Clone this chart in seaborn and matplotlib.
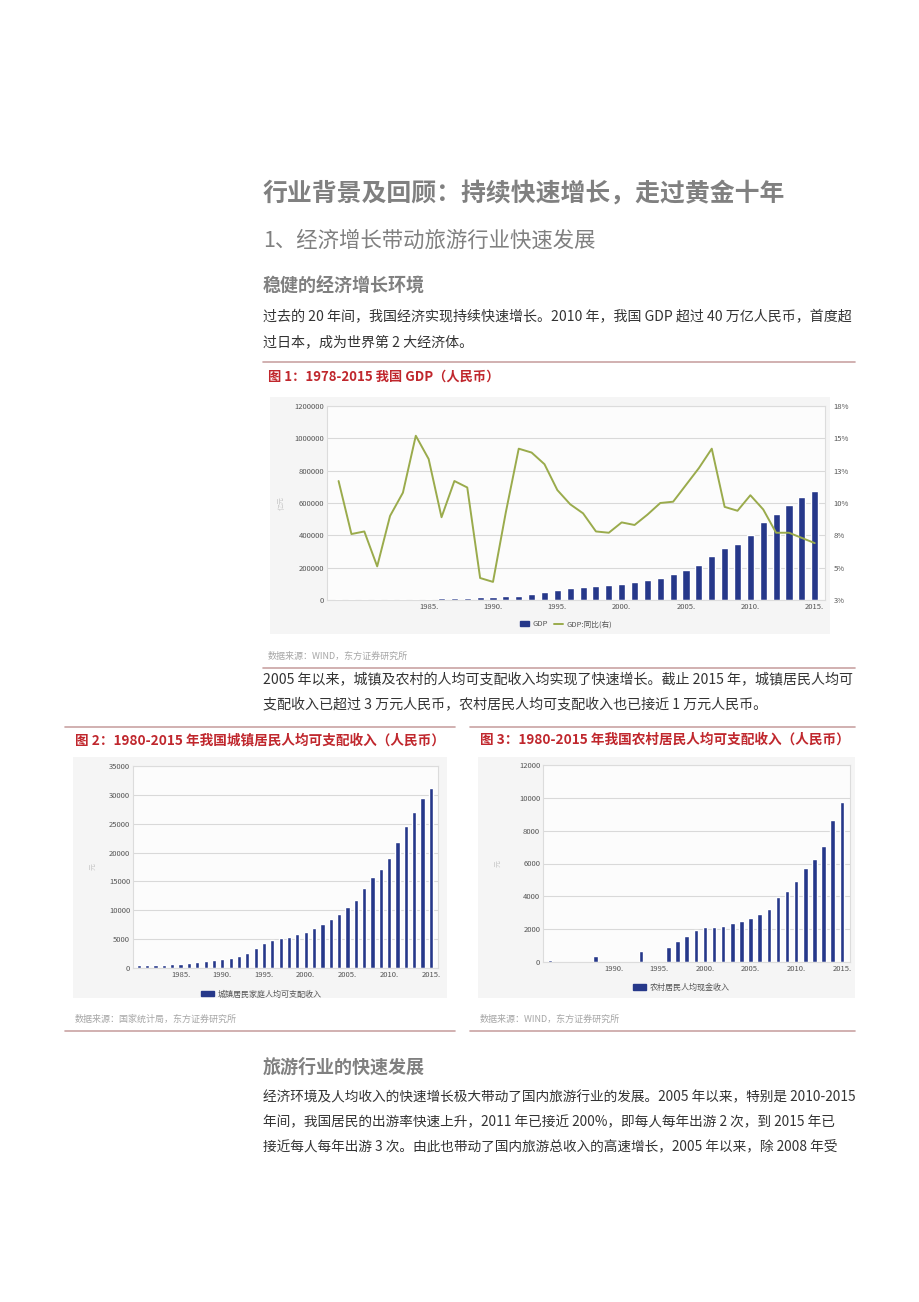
import numpy as np
import pandas as pd
import seaborn as sns
import matplotlib.pyplot as plt
from matplotlib.patches import Rectangle
from matplotlib.lines import Line2D
from matplotlib.patches import Patch

# ---- data ----
gdp_years = list(range(1978, 2016))
gdp_value = [3679, 4101, 4588, 4936, 5373, 6021, 7279, 9099, 10376, 12175,
             15180, 17180, 18873, 22006, 27195, 35673, 48638, 61340, 71814, 79715,
             85196, 90564, 100280, 110863, 121717, 137422, 161840, 187319, 219439, 270232,
             319516, 349081, 405000, 480000, 535000, 587000, 635000, 676000]
gdp_growth = [11.7, 7.6, 7.8, 5.1, 9.0, 10.8, 15.2, 13.4, 8.9, 11.7,
              11.2, 4.2, 3.9, 9.3, 14.2, 13.9, 13.0, 11.0, 9.9, 9.2,
              7.8, 7.7, 8.5, 8.3, 9.1, 10.0, 10.1, 11.4, 12.7, 14.2,
              9.7, 9.4, 10.6, 9.5, 7.7, 7.7, 7.3, 6.9]

urban_years = list(range(1980, 2016))
urban_income = [478, 500, 535, 565, 652, 739, 900, 1002, 1180, 1374,
                1510, 1701, 2027, 2577, 3496, 4283, 4839, 5160, 5425, 5854,
                6280, 6860, 7703, 8472, 9422, 10493, 11759, 13786, 15781, 17175,
                19109, 21810, 24565, 26955, 29381, 31195]

rural_years = [1983, 1988, 1993] + list(range(1996, 2016))
rural_income = [130, 340, 680, 910, 1250, 1600, 1945, 2120, 2160, 2190,
                2370, 2510, 2710, 2920, 3240, 3930, 4300, 4950, 5720,
                6290, 7090, 8640, 9770]

tick_years = [1985, 1990, 1995, 2000, 2005, 2010, 2015]
gdp_left_ticks = [0, 200000, 400000, 600000, 800000, 1000000, 1200000]
gdp_right_ticks = [2.5, 5, 7.5, 10, 12.5, 15, 17.5]
gdp_right_labels = ['3%', '5%', '8%', '10%', '13%', '15%', '18%']

# ---- style ----
sns.set_theme(style='white')
plt.rcParams['font.family'] = ['Noto Sans CJK SC', 'DejaVu Sans']

W, H = 920, 1302
BAR = '#26388a'
LINE = '#9aab4c'
RED = '#c0272d'
GRAY_HEAD = '#808080'
BODY = '#333333'
RULE = '#c9a3a3'
BODY_FS = 10.1

fig = plt.figure(figsize=(W / 100, H / 100), dpi=100)
fig.patch.set_facecolor('white')


def box(l, t, r, b):
    return [l / W, 1 - b / H, (r - l) / W, (b - t) / H]


def txt(x, y, s, **kw):
    fig.text(x / W, 1 - y / H, s, va='center', ha='left', **kw)


def rule(x0, x1, y, lw=1.2):
    fig.add_artist(Line2D([x0 / W, x1 / W], [1 - y / H, 1 - y / H], color=RULE, lw=lw))


def panel(l, t, r, b):
    fig.add_artist(Rectangle((l / W, 1 - b / H), (r - l) / W, (b - t) / H,
                             transform=fig.transFigure, facecolor='#f5f5f5',
                             edgecolor='none', zorder=0))


def style_ax(ax):
    ax.set_facecolor('#fcfcfc')
    ax.grid(axis='y', color='#d9d9d9', lw=0.8)
    ax.grid(axis='x', visible=False)
    for s in ax.spines.values():
        s.set_color('#dcdcdc')
        s.set_linewidth(0.8)
    ax.tick_params(axis='both', length=0, labelsize=5.5, colors='#555555', pad=2)
    ax.set_xlabel('')


# ---- page text ----
txt(263, 193, '行业背景及回顾：持续快速增长，走过黄金十年', fontsize=17.9, fontweight='bold', color=GRAY_HEAD)
txt(263, 241, '1、经济增长带动旅游行业快速发展', fontsize=15.4, color=GRAY_HEAD)
txt(263, 286, '稳健的经济增长环境', fontsize=13, fontweight='bold', color=GRAY_HEAD)
txt(263, 317, '过去的 20 年间，我国经济实现持续快速增长。2010 年，我国 GDP 超过 40 万亿人民币，首度超',
    fontsize=BODY_FS, color=BODY)
txt(263, 342, '过日本，成为世界第 2 大经济体。', fontsize=BODY_FS, color=BODY)
rule(263, 855, 362)
txt(268, 377, '图 1：1978-2015 我国 GDP（人民币）', fontsize=9.5, fontweight='bold', color=RED)

# ---- chart 1: GDP ----
panel(270, 397, 830, 634)
ax1 = fig.add_axes(box(327, 406, 825, 600))
sns.barplot(x=gdp_years, y=gdp_value, native_scale=True, width=0.55, color=BAR,
            saturation=1, ax=ax1)
ax1.set_ylim(0, 1200000)
ax1.set_yticks(gdp_left_ticks)
ax1.set_yticklabels([str(v) for v in gdp_left_ticks])
ax1.set_xlim(1977.1, 2015.8)
ax1.set_xticks(tick_years)
ax1.set_xticklabels([f'{y}.' for y in tick_years])
ax1.set_ylabel('亿元', fontsize=5, color='#c8c8c8', labelpad=6)
style_ax(ax1)
ax1b = ax1.twinx()
sns.lineplot(x=gdp_years, y=gdp_growth, color=LINE, lw=1.4, ax=ax1b)
ax1b.set_ylim(2.5, 17.5)
ax1b.set_yticks(gdp_right_ticks)
ax1b.set_yticklabels(gdp_right_labels)
ax1b.tick_params(axis='y', length=0, labelsize=5.5, colors='#555555', pad=6)
ax1b.grid(False)
for s in ax1b.spines.values():
    s.set_visible(False)
ax1.legend(handles=[Patch(color=BAR, label='GDP'),
                    Line2D([], [], color=LINE, lw=1.4, label='GDP:同比(右)')],
           loc='upper center', bbox_to_anchor=(0.48, -0.07), ncol=2, frameon=False,
           fontsize=5.5, handlelength=1.2, handletextpad=0.4, columnspacing=0.8,
           labelcolor='#555555')

txt(268, 656, '数据来源：WIND，东方证券研究所', fontsize=6.5, color='#a6a6a6')
rule(263, 855, 668)
txt(263, 680, '2005 年以来，城镇及农村的人均可支配收入均实现了快速增长。截止 2015 年，城镇居民人均可',
    fontsize=BODY_FS, color=BODY)
txt(263, 705, '支配收入已超过 3 万元人民币，农村居民人均可支配收入也已接近 1 万元人民币。',
    fontsize=BODY_FS, color=BODY)

# ---- chart 2: urban income ----
rule(65, 455, 727)
txt(75, 740, '图 2：1980-2015 年我国城镇居民人均可支配收入（人民币）', fontsize=9.8,
    fontweight='bold', color=RED)
panel(73, 757, 447, 998)
ax2 = fig.add_axes(box(133, 766, 438, 968))
sns.barplot(x=urban_years, y=urban_income, native_scale=True, width=0.5, color=BAR,
            saturation=1, ax=ax2)
ax2.set_ylim(0, 35000)
ax2.set_yticks(range(0, 35001, 5000))
ax2.set_xlim(1979.3, 2015.85)
ax2.set_xticks(tick_years)
ax2.set_xticklabels([f'{y}.' for y in tick_years])
ax2.set_ylabel('元', fontsize=5, color='#c8c8c8', labelpad=8)
style_ax(ax2)
ax2.legend(handles=[Patch(color=BAR, label='城镇居民家庭人均可支配收入')],
           loc='upper center', bbox_to_anchor=(0.42, -0.07), frameon=False,
           fontsize=5.8, handlelength=1.6, handletextpad=0.5, labelcolor='#555555')
txt(75, 1019, '数据来源：国家统计局，东方证券研究所', fontsize=6.5, color='#a6a6a6')
rule(65, 455, 1031)

# ---- chart 3: rural income ----
rule(470, 855, 727)
txt(480, 740, '图 3：1980-2015 年我国农村居民人均可支配收入（人民币）', fontsize=9.8,
    fontweight='bold', color=RED)
panel(478, 757, 855, 998)
ax3 = fig.add_axes(box(543, 765, 850, 962))
sns.barplot(x=rural_years, y=rural_income, native_scale=True, width=0.5, color=BAR,
            saturation=1, ax=ax3)
ax3.set_ylim(0, 12000)
ax3.set_yticks(range(0, 12001, 2000))
ax3.set_xlim(1982.25, 2015.9)
ax3.set_xticks(tick_years[1:])
ax3.set_xticklabels([f'{y}.' for y in tick_years[1:]])
ax3.set_ylabel('元', fontsize=5, color='#c8c8c8', labelpad=12)
style_ax(ax3)
ax3.legend(handles=[Patch(color=BAR, label='农村居民人均现金收入')],
           loc='upper center', bbox_to_anchor=(0.45, -0.07), frameon=False,
           fontsize=5.8, handlelength=1.6, handletextpad=0.5, labelcolor='#555555')
txt(480, 1019, '数据来源：WIND，东方证券研究所', fontsize=6.5, color='#a6a6a6')
rule(470, 855, 1031)

# ---- closing section ----
txt(263, 1067, '旅游行业的快速发展', fontsize=13, fontweight='bold', color=GRAY_HEAD)
txt(263, 1097, '经济环境及人均收入的快速增长极大带动了国内旅游行业的发展。2005 年以来，特别是 2010-2015',
    fontsize=9.85, color=BODY)
txt(263, 1122, '年间，我国居民的出游率快速上升，2011 年已接近 200%，即每人每年出游 2 次，到 2015 年已',
    fontsize=9.85, color=BODY)
txt(263, 1147, '接近每人每年出游 3 次。由此也带动了国内旅游总收入的高速增长，2005 年以来，除 2008 年受',
    fontsize=9.85, color=BODY)

fig.savefig('out.png', dpi=100, facecolor='white')
